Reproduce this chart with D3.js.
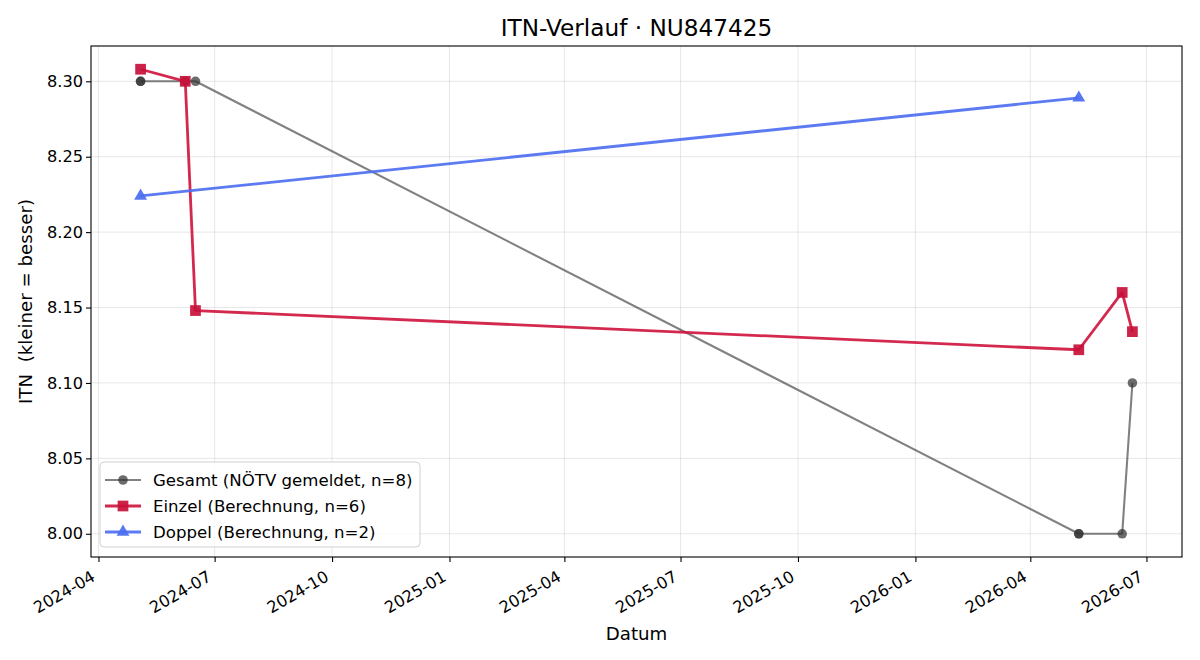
<!DOCTYPE html>
<html>
<head>
<meta charset="utf-8">
<script src="https://cdn.jsdelivr.net/npm/d3@7"></script>
<style>
  body { margin: 0; background: #fff; }
  svg text { font-family: "DejaVu Sans", sans-serif; fill: #000; }
</style>
</head>
<body>
<div class="d3"></div>
<script>
// data
const gesamtDates = ["2024-05-04", "2024-05-04", "2024-06-08", "2024-06-16", "2026-05-09", "2026-05-09", "2026-06-12", "2026-06-20"];
const gesamtValues = [8.30, 8.30, 8.30, 8.30, 8.00, 8.00, 8.00, 8.10];

const einzelDates = ["2024-05-04", "2024-06-08", "2024-06-16", "2026-05-09", "2026-06-12", "2026-06-20"];
const einzelValues = [8.308, 8.300, 8.148, 8.122, 8.160, 8.134];

const doppelDates = ["2024-05-04", "2026-05-09"];
const doppelValues = [8.224, 8.289];

const legendLabels = ["Gesamt (NÖTV gemeldet, n=8)", "Einzel (Berechnung, n=6)", "Doppel (Berechnung, n=2)"];

function main() {
    const width = 1200, height = 660;
    const left = 91, right = 1182, top = 46, bottom = 557;
    const parse = d3.timeParse("%Y-%m-%d");

    const zip = (ds, vs) => ds.map((d, i) => ({date: parse(d), value: vs[i]}));
    const gesamt = zip(gesamtDates, gesamtValues);
    const einzel = zip(einzelDates, einzelValues);
    const doppel = zip(doppelDates, doppelValues);
    const all = gesamt.concat(einzel, doppel);

    // matplotlib style 5% margins
    const xExt = d3.extent(all, d => d.date);
    const xPad = (xExt[1] - xExt[0]) * 0.05;
    const yExt = d3.extent(all, d => d.value);
    const yPad = (yExt[1] - yExt[0]) * 0.05;

    const x = d3.scaleTime()
        .domain([new Date(+xExt[0] - xPad), new Date(+xExt[1] + xPad)])
        .range([left, right]);
    const y = d3.scaleLinear()
        .domain([yExt[0] - yPad, yExt[1] + yPad])
        .range([bottom, top]);

    const svg = d3.select(".d3")
        .append("svg")
        .attr("width", width)
        .attr("height", height);

    const xTicks = x.ticks(d3.timeMonth.every(3));
    const yTicks = d3.range(0, 7).map(i => 8 + i * 0.05);

    // grid
    svg.append("g").selectAll("line").data(xTicks).enter().append("line")
        .attr("x1", d => x(d)).attr("x2", d => x(d))
        .attr("y1", top).attr("y2", bottom)
        .attr("stroke", "#b0b0b0").attr("stroke-opacity", 0.3).attr("stroke-width", 1);
    svg.append("g").selectAll("line").data(yTicks).enter().append("line")
        .attr("y1", d => y(d)).attr("y2", d => y(d))
        .attr("x1", left).attr("x2", right)
        .attr("stroke", "#b0b0b0").attr("stroke-opacity", 0.3).attr("stroke-width", 1);

    // axes
    const xAxis = svg.append("g")
        .attr("transform", "translate(0," + bottom + ")")
        .call(d3.axisBottom(x).tickValues(xTicks).tickFormat(d3.timeFormat("%Y-%m")).tickSize(5).tickSizeOuter(0));
    xAxis.select(".domain").remove();
    xAxis.selectAll(".tick line").attr("stroke", "#000").attr("stroke-width", 1.1);
    xAxis.selectAll(".tick text")
        .attr("font-size", 16.2)
        .attr("text-anchor", "end")
        .attr("y", 0).attr("dy", "0.78em")
        .attr("transform", "translate(-9,12) rotate(-30)");

    const yAxis = svg.append("g")
        .attr("transform", "translate(" + left + ",0)")
        .call(d3.axisLeft(y).tickValues(yTicks).tickFormat(d3.format(".2f")).tickSize(5).tickSizeOuter(0));
    yAxis.select(".domain").remove();
    yAxis.selectAll(".tick line").attr("stroke", "#000").attr("stroke-width", 1.1);
    yAxis.selectAll(".tick text").attr("font-size", 16.2).attr("x", -8);

    const line = d3.line().x(d => x(d.date)).y(d => y(d.value));

    const series = [
        {data: gesamt, stroke: "#333", lineOpacity: 0.62, lw: 2.1, fill: "#333", fillOpacity: 0.72, shape: d3.symbolCircle, size: 72},
        {data: einzel, stroke: "#d0173f", lineOpacity: 0.92, lw: 2.8, fill: "#c8103a", fillOpacity: 0.92, shape: d3.symbolSquare, size: 115},
        {data: doppel, stroke: "#4a6cf0", lineOpacity: 0.9, lw: 2.8, fill: "#4a6cf0", fillOpacity: 0.92, shape: d3.symbolTriangle, size: 72}
    ];

    series.forEach(s => {
        svg.append("path")
            .datum(s.data)
            .attr("d", line)
            .attr("fill", "none")
            .attr("stroke", s.stroke)
            .attr("stroke-opacity", s.lineOpacity)
            .attr("stroke-width", s.lw)
            .attr("stroke-linejoin", "round");
        svg.append("g").selectAll("path").data(s.data).enter().append("path")
            .attr("d", d3.symbol().type(s.shape).size(s.size))
            .attr("transform", d => "translate(" + x(d.date) + "," + y(d.value) + ")")
            .attr("fill", s.fill)
            .attr("fill-opacity", s.fillOpacity);
    });

    // frame
    svg.append("rect")
        .attr("x", left).attr("y", top)
        .attr("width", right - left).attr("height", bottom - top)
        .attr("fill", "none").attr("stroke", "#000").attr("stroke-width", 1.1);

    // legend
    const lg = svg.append("g");
    lg.append("rect")
        .attr("x", 100).attr("y", 462).attr("width", 320).attr("height", 85)
        .attr("rx", 4).attr("fill", "#fff").attr("fill-opacity", 0.8)
        .attr("stroke", "#d0d0d0").attr("stroke-width", 1);
    legendLabels.forEach((lab, i) => {
        const s = series[i];
        const cy = 480 + i * 26;
        lg.append("line")
            .attr("x1", 105).attr("x2", 141).attr("y1", cy).attr("y2", cy)
            .attr("stroke", s.stroke).attr("stroke-opacity", s.lineOpacity).attr("stroke-width", s.lw);
        lg.append("path")
            .attr("d", d3.symbol().type(s.shape).size(s.size))
            .attr("transform", "translate(123," + cy + ")")
            .attr("fill", s.fill).attr("fill-opacity", s.fillOpacity);
        lg.append("text")
            .attr("x", 153).attr("y", cy).attr("dy", "0.36em")
            .attr("font-size", 16.6)
            .text(lab);
    });

    // titles
    svg.append("text")
        .attr("x", (left + right) / 2).attr("y", 36)
        .attr("text-anchor", "middle").attr("font-size", 23.2)
        .text("ITN-Verlauf · NU847425");
    svg.append("text")
        .attr("x", (left + right) / 2).attr("y", 640)
        .attr("text-anchor", "middle").attr("font-size", 18.2)
        .text("Datum");
    svg.append("text")
        .attr("transform", "translate(32," + (top + bottom) / 2 + ") rotate(-90)")
        .attr("text-anchor", "middle").attr("font-size", 18.2)
        .text("ITN  (kleiner = besser)")
        .style("white-space", "pre");
}
main();
</script>
</body>
</html>
